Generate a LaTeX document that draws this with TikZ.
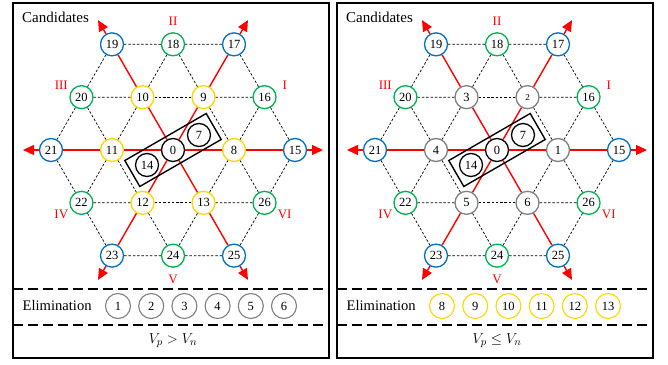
\documentclass[tikz,border=0pt]{standalone}
\usepackage{fontspec}
\setmainfont{Liberation Serif}
\usetikzlibrary{arrows.meta,calc,positioning}
\definecolor{ptblue}{RGB}{0,112,192}
\definecolor{ptgreen}{RGB}{0,176,80}
\definecolor{ptyellow}{RGB}{255,215,0}
\definecolor{ptgray}{RGB}{128,128,128}
\definecolor{ptred}{RGB}{255,0,0}
\tikzset{
  cand/.style={circle,draw,fill=white,line width=1.3pt,minimum size=23pt,inner sep=0pt,font=\fontsize{12.5}{13}\selectfont},
  latt/.style={black,line width=0.7pt,dash pattern=on 2.5pt off 1.8pt},
  ray/.style={ptred,line width=1.4pt},
  sector/.style={ptred,font=\fontsize{13}{14}\selectfont},
  sepline/.style={line width=1.6pt,dash pattern=on 10pt off 5pt},
  panelbox/.style={line width=2pt}
}
% #1 prefix, #2 shift, #3 inner labels, #4 inner colour, #5 eliminated labels, #6 their colour, #7 relation
\newcommand{\hexpanel}[7]{%
\begin{scope}[xshift=#2]
\draw[panelbox] (13,6) rectangle (329,361);
\draw[sepline] (13,75) -- (329,75); \draw[sepline] (13,39) -- (329,39);
\node[anchor=west,inner sep=0pt,font=\fontsize{15}{16}\selectfont] (#1cand) at (22,347) {Candidates};
% hexagonal lattice round the centre vector
\coordinate (#1ctr) at (173,214);
\foreach \k in {1,...,6}{\coordinate (#1t\k) at ($(#1ctr)+({60*(\k-1)}:150)$);}
\node[cand] (#1c) at (#1ctr) {0};
\foreach \k/\lab in {#3}{\node[cand,draw=#4] (#1i\k) at ($(#1ctr)+({60*(\k-1)}:61)$) {\lab};}
\foreach \k/\lab in {1/15,2/17,3/19,4/21,5/23,6/25}{\node[cand,draw=ptblue] (#1v\k) at ($(#1ctr)+({60*(\k-1)}:122)$) {\lab};}
\foreach \k/\lab in {1/16,2/18,3/20,4/22,5/24,6/26}{\node[cand,draw=ptgreen] (#1m\k) at ($(#1ctr)+({30+60*(\k-1)}:105.7)$) {\lab};}
\foreach \k/\lab in {1/I,2/II,3/III,4/IV,5/V,6/VI}{\node[sector] (#1s\k) at ($(#1ctr)+({30+60*(\k-1)}:129)$) {\lab};}
\foreach \k in {1,...,6}{
  \pgfmathtruncatemacro{\n}{mod(\k,6)+1}
  \draw[latt] (#1i\k) -- (#1i\n); \draw[latt] (#1v\k) -- (#1m\k); \draw[latt] (#1m\k) -- (#1v\n);
  \draw[latt] (#1m\k) -- (#1i\k); \draw[latt] (#1m\k) -- (#1i\n);
  \draw[ray] (#1c) -- (#1i\k); \draw[ray] (#1i\k) -- (#1v\k);
  \draw[ray,-{Triangle[length=11pt,width=10pt]}] (#1v\k) -- (#1t\k);
}
\node[draw,line width=1.4pt,rotate=30,minimum width=94pt,minimum height=30pt,inner sep=0pt] (#1pair) at (#1ctr) {};
\node[cand] (#1p7) at ($(#1ctr)+(30:30)$) {7};
\node[cand] (#1p14) at ($(#1ctr)+(210:30)$) {14};
% eliminated vectors
\node[anchor=west,inner sep=0pt,font=\fontsize{14.6}{16}\selectfont] (#1elim) at (22.5,58) {Elimination};
\foreach \lab [count=\j] in {#5}{\node[cand,draw=#6,line width=1.1pt,minimum size=25pt] (#1e\j) at ({118+33.2*(\j-1)},58) {\lab};}
\node[font=\fontsize{15}{16}\selectfont] (#1rel) at (173,23) {$#7$};
\end{scope}}

\begin{document}
\begin{tikzpicture}[x=1pt,y=1pt]
\useasboundingbox (0,0) rectangle (668,364);
\hexpanel{L}{0pt}{1/8,2/9,3/10,4/11,5/12,6/13}{ptyellow}{1,2,3,4,5,6}{ptgray}{V_p > V_n}
\hexpanel{R}{324pt}{1/1,2/{\fontsize{9}{10}\selectfont 2},3/3,4/4,5/5,6/6}{ptgray}{8,9,10,11,12,13}{ptyellow}{V_p \leq V_n}
\end{tikzpicture}
\end{document}
